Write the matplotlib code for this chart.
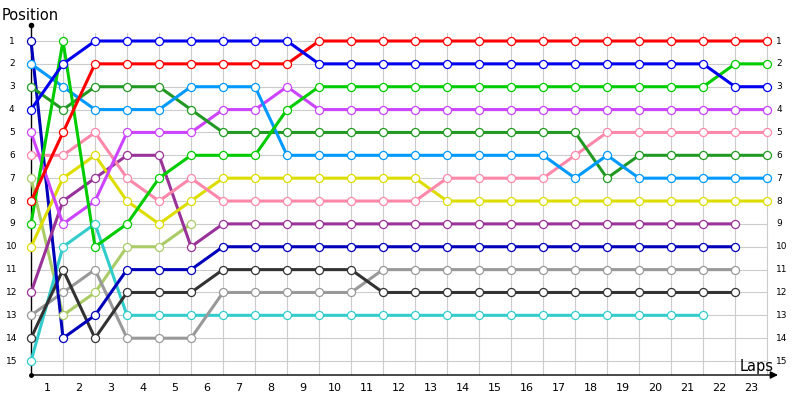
import matplotlib
matplotlib.use("Agg")
import matplotlib.pyplot as plt

# positions per lap, starting at lap 0 (grid)
red = [8, 5, 2, 2, 2, 2, 2, 2, 2, 1, 1, 1, 1, 1, 1, 1, 1, 1, 1, 1, 1, 1, 1, 1]
blue = [4, 2, 1, 1, 1, 1, 1, 1, 1, 2, 2, 2, 2, 2, 2, 2, 2, 2, 2, 2, 2, 2, 3, 3]
green = [9, 1, 10, 9, 7, 6, 6, 6, 4, 3, 3, 3, 3, 3, 3, 3, 3, 3, 3, 3, 3, 3, 2, 2]
light_blue = [2, 3, 4, 4, 4, 3, 3, 3, 6, 6, 6, 6, 6, 6, 6, 6, 6, 7, 6, 7, 7, 7, 7, 7]
dark_green = [3, 4, 3, 3, 3, 4, 5, 5, 5, 5, 5, 5, 5, 5, 5, 5, 5, 5, 7, 6, 6, 6, 6, 6]
magenta = [5, 9, 8, 5, 5, 5, 4, 4, 3, 4, 4, 4, 4, 4, 4, 4, 4, 4, 4, 4, 4, 4, 4, 4]
pink = [6, 6, 5, 7, 8, 7, 8, 8, 8, 8, 8, 8, 8, 7, 7, 7, 7, 6, 5, 5, 5, 5, 5, 5]
yellow = [10, 7, 6, 8, 9, 8, 7, 7, 7, 7, 7, 7, 7, 8, 8, 8, 8, 8, 8, 8, 8, 8, 8, 8]
purple = [12, 8, 7, 6, 6, 10, 9, 9, 9, 9, 9, 9, 9, 9, 9, 9, 9, 9, 9, 9, 9, 9, 9]
navy = [1, 14, 13, 11, 11, 11, 10, 10, 10, 10, 10, 10, 10, 10, 10, 10, 10, 10, 10, 10, 10, 10, 10]
black = [14, 11, 14, 12, 12, 12, 11, 11, 11, 11, 11, 12, 12, 12, 12, 12, 12, 12, 12, 12, 12, 12, 12]
gray = [13, 12, 11, 14, 14, 14, 12, 12, 12, 12, 12, 11, 11, 11, 11, 11, 11, 11, 11, 11, 11, 11, 11]
cyan = [15, 10, 9, 13, 13, 13, 13, 13, 13, 13, 13, 13, 13, 13, 13, 13, 13, 13, 13, 13, 13, 13]
light_green = [7, 13, 12, 10, 10, 9]

series = [
    (light_green, "#aacc66"),
    (cyan, "#33cccc"),
    (gray, "#999999"),
    (black, "#333333"),
    (navy, "#0000bb"),
    (purple, "#993399"),
    (yellow, "#dddd00"),
    (pink, "#ff88aa"),
    (magenta, "#cc44ff"),
    (dark_green, "#229922"),
    (light_blue, "#0099ff"),
    (green, "#00cc00"),
    (red, "#ff0000"),
    (blue, "#0000ee"),
]

n_laps = 23
n_pos = 15
lap_labels = [str(i) for i in range(1, n_laps + 1)]
pos_labels = [str(i) for i in range(1, n_pos + 1)]

GRID = "#cccccc"
TXT = "#000000"

fig = plt.figure(figsize=(8, 4), dpi=100)
ax = fig.add_axes([31 / 800, 25 / 400, 747 / 800, 350 / 400])
ax.set_xlim(0, 23.34)
ax.set_ylim(15.61, 0.3)
ax.axis("off")

# grid
for p in range(1, n_pos + 1):
    ax.plot([0, n_laps], [p, p], color=GRID, linewidth=0.8, zorder=0)
for lap in range(1, n_laps + 1):
    ax.plot([lap, lap], [0.65, 15.61], color=GRID, linewidth=0.8, zorder=0)

# axes lines
ax.plot([0, 0], [0.3, 15.61], color="black", linewidth=1.0, zorder=1, clip_on=False)
ax.plot(0, 0.3, marker="o", markersize=3, color="black", clip_on=False)
ax.plot(0, 15.61, marker="o", markersize=2.5, color="black", clip_on=False)
ax.annotate(
    "",
    xy=(23.34, 15.61),
    xytext=(0, 15.61),
    arrowprops=dict(arrowstyle="-|>", color="black", linewidth=1.0,
                    mutation_scale=11, shrinkA=0, shrinkB=0),
    annotation_clip=False,
)

# driver lines
for k, (vals, col) in enumerate(series):
    laps = list(range(len(vals)))
    ax.plot(laps, vals, color=col, linewidth=2.2, solid_joinstyle="miter",
            zorder=2 + k * 0.01, clip_on=False)
    ax.plot(laps, vals, linestyle="none", marker="o", markersize=5.8,
            markerfacecolor="white", markeredgecolor=col, markeredgewidth=0.9,
            zorder=3 + k * 0.01, clip_on=False)

# labels
for i, lab in enumerate(pos_labels):
    p = i + 1
    ax.text(-0.6, p, lab, ha="center", va="center", fontsize=6.5, color=TXT,
            clip_on=False)
    ax.text(n_laps + 0.28, p, lab, ha="left", va="center", fontsize=6.5,
            color=TXT, clip_on=False)
for i, lab in enumerate(lap_labels):
    ax.text(i + 0.5, 16.17, lab, ha="center", va="center", fontsize=8,
            color=TXT, clip_on=False)

fig.text(2 / 800, 1 - 15 / 400, "Position", ha="left", va="center",
         fontsize=10.5, color=TXT)
fig.text(774 / 800, 1 - 367 / 400, "Laps", ha="right", va="center",
         fontsize=10.5, color=TXT)

fig.savefig("out.png", dpi=100, facecolor="white")
